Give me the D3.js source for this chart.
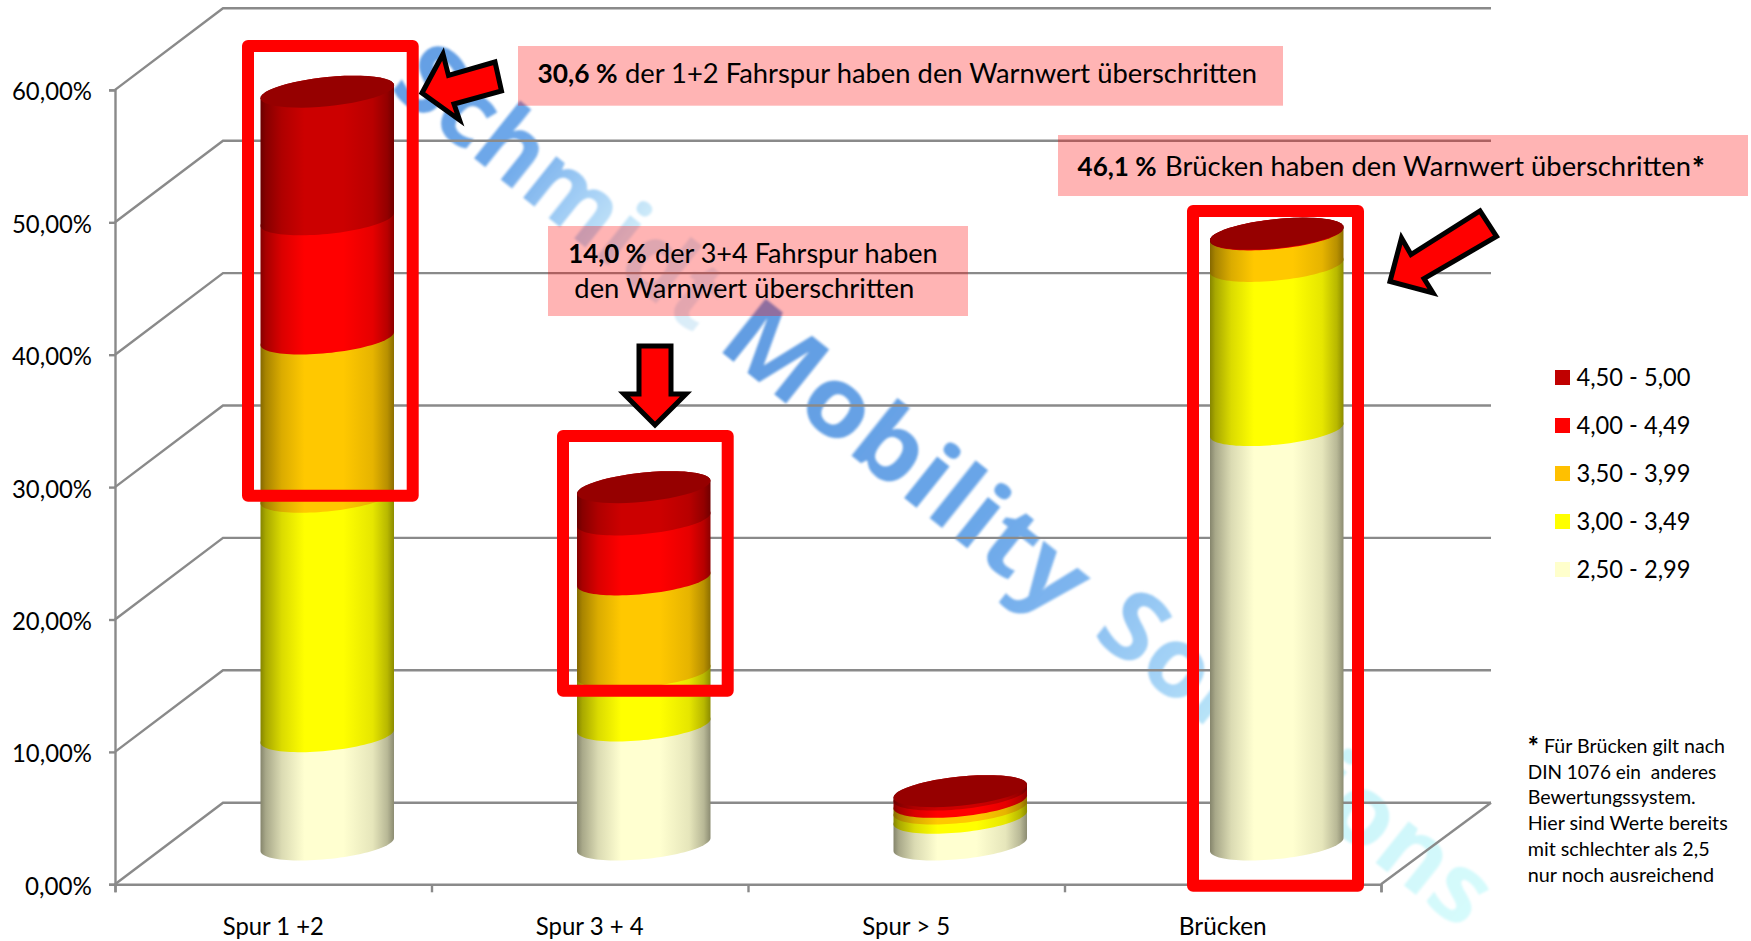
<!DOCTYPE html>
<html lang="de">
<head>
<meta charset="utf-8">
<title>Warnwert</title>
<script src="https://cdn.jsdelivr.net/npm/d3@7/dist/d3.min.js"></script>
<style>
html,body{margin:0;padding:0;background:#fff;overflow:hidden}
svg{display:block}
text{font-family:Lato,"Open Sans",sans-serif;fill:#000}
</style>
</head>
<body>
<svg id="chart" width="1751" height="941"></svg>
<script>
// ---- data ----
const categories = ["Spur 1 +2", "Spur 3 + 4", "Spur > 5", "Brücken"];
const classes = ["2,50 - 2,99", "3,00 - 3,49", "3,50 - 3,99", "4,00 - 4,49", "4,50 - 5,00"];
const band2_50 = [8.18, 8.99, 2.02, 31.3];
const band3_00 = [18.08, 4.0, 0.7, 12.4];
const band3_50 = [11.96, 7.03, 0.5, 2.38];
const band4_00 = [9.0, 4.53, 0.55, 0.04];
const band4_50 = [9.64, 2.44, 0.26, 0.02];
const seriesValues = [band2_50, band3_00, band3_50, band4_00, band4_50];
const axisTicks = [0, 10, 20, 30, 40, 50, 60];
const seriesColors = ["#ffffd0", "#ffff00", "#ffc800", "#ff0000", "#cc0000"];
const legendColors = ["#ffffcc", "#ffff00", "#ffc000", "#ff0000", "#c00000"];
const footnote = ["Für Brücken gilt nach", "DIN 1076 ein  anderes", "Bewertungssystem.", "Hier sind Werte bereits", "mit schlechter als 2,5", "nur noch ausreichend"];

// ---- layout ----
const svg = d3.select("#chart");
const y = d3.scaleLinear().domain([0, 60]).range([884.3, 89.9]);
const x = d3.scaleBand().domain(categories).range([115, 1381]);
const depth = {dx: 108, dy: 81.6};
const gridColor = "#8a8a8a";
const cyl = {w: 133.5, hemi: 16, shear: 6.5};
const locale = d3.formatLocale({decimal: ",", thousands: ".", grouping: [3], currency: ["", "€"]});
const pct = v => locale.format(".2f")(v) + "%";

const defs = svg.append("defs");
function shade(c, k) { const r = d3.rgb(c); return d3.rgb(r.r * k, r.g * k, r.b * k).formatHex(); }
seriesColors.forEach((c, i) => {
  const g = defs.append("linearGradient").attr("id", "side" + i);
  [[0, .52], [.04, .66], [.16, .86], [.33, 1], [.62, 1], [.84, .9], [.95, .72], [1, .55]].forEach(([o, k]) =>
    g.append("stop").attr("offset", o).attr("stop-color", shade(c, k)));
});
defs.append("filter").attr("id", "soft").append("feGaussianBlur").attr("stdDeviation", 0.9);

// ---- watermark: word, position along the slanted line, offset across it, length, colour ramp ----
const watermarkWords = [
  ["Schmidt", 14, 0, 392, [[0, "#649fe4"], [.36, "#6fa9ea"], [.55, "#a2cef5"], [.72, "#cdeaf9"], [1, "#dcedf8"]]],
  ["Mobility", 430, -3, 438, [[0, "#629de2"], [.7, "#6aa6e8"], [1, "#7fb6ef"]]],
  ["Solutions", 904, -12, 474, [[0, "#8fc2f2"], [.2, "#a8d6f7"], [.4, "#c6f0f8"], [1, "#d6fbfc"]]]
];
const wm = svg.append("g").attr("transform", "translate(377,81) rotate(38.6)").attr("filter", "url(#soft)");
watermarkWords.forEach(([word, u, v, len, ramp], i) => {
  const g = defs.append("linearGradient").attr("id", "wm" + i);
  ramp.forEach(([o, c]) => g.append("stop").attr("offset", o).attr("stop-color", c));
  wm.append("text").text(word).attr("x", u).attr("y", v)
    .attr("textLength", len).attr("lengthAdjust", "spacingAndGlyphs")
    .style("font-family", "'Open Sans'").style("font-weight", 700).style("font-size", "96px")
    .style("fill", `url(#wm${i})`);
});

// ---- walls ----
const grid = svg.append("g").attr("fill", "none").attr("stroke", gridColor).attr("stroke-width", 2.4);
const xFront = x.range()[0], xEnd = x.range()[1];
axisTicks.forEach(t => {
  const p = d3.path();
  p.moveTo(xFront, y(t));
  p.lineTo(xFront + depth.dx, y(t) - depth.dy);
  p.lineTo(xEnd + depth.dx + 2, y(t) - depth.dy);
  grid.append("path").attr("d", p.toString());
});
const floorEdge = d3.path();
floorEdge.moveTo(xEnd, y(0)); floorEdge.lineTo(xEnd + depth.dx + 2, y(0) - depth.dy);
grid.append("path").attr("d", floorEdge.toString());

// ---- axes ----
const yAxis = d3.axisLeft(y).tickValues(axisTicks).tickFormat(pct).tickSize(6).tickPadding(17);
const gy = svg.append("g").attr("transform", `translate(${xFront},0)`).call(yAxis);
gy.selectAll(".domain,.tick line").attr("stroke", gridColor).attr("stroke-width", 2.4);
gy.selectAll("text").style("font-size", "25px").attr("dy", "0.4em")
  .attr("textLength", d => d === 0 ? 67 : 80).attr("lengthAdjust", "spacingAndGlyphs");

const xBoundaries = d3.scaleLinear().domain([0, categories.length]).range(x.range());
const gxb = svg.append("g").attr("transform", `translate(0,${y(0)})`)
  .call(d3.axisBottom(xBoundaries).tickValues(d3.range(categories.length + 1)).tickSize(8).tickFormat(""));
gxb.selectAll(".domain,.tick line").attr("stroke", gridColor).attr("stroke-width", 2.4);
const xLabelWidths = [101, 108, 88, 88];
const gx = svg.append("g").attr("transform", `translate(0,${y(0)})`)
  .call(d3.axisBottom(x).tickSize(0).tickPadding(33));
gx.select(".domain").remove();
gx.selectAll("text").style("font-size", "25px").attr("dy", "0.71em")
  .attr("textLength", (d, i) => xLabelWidths[i]).attr("lengthAdjust", "spacingAndGlyphs");

// ---- cylinders ----
const N = 48;
function ellipsePts(cx, cy, from, to) {
  return d3.range(N + 1).map(i => {
    const t = from + (to - from) * i / N;
    const b = Math.sqrt(cyl.hemi * cyl.hemi - cyl.shear * cyl.shear);
    return [cx + cyl.w / 2 * Math.cos(t), cy - cyl.shear * Math.cos(t) + b * Math.sin(t)];
  });
}
const lineGen = d3.line();
const gc = svg.append("g");
const toCenter = v => y(v) - depth.dy / 2 + 1;
categories.forEach((c, ci) => {
  const cx = x(c) + x.bandwidth() / 2 + depth.dx / 2;
  let acc = 0;
  seriesValues.forEach((s, si) => {
    const v0 = acc, v1 = acc + s[ci];
    acc = v1;
    const front = ellipsePts(cx, toCenter(v0), Math.PI, 0);      // left → right along front
    const back = ellipsePts(cx, toCenter(v1), 0, -Math.PI);      // right → left along rear
    gc.append("path").attr("d", lineGen(front.concat(back)) + "Z").attr("fill", `url(#side${si})`);
  });
  const top = ellipsePts(cx, toCenter(acc), 0, 2 * Math.PI);
  gc.append("path").attr("d", lineGen(top) + "Z").attr("fill", "#960000");
});

// ---- annotation panels ----
const panels = [[518, 46, 765, 59.7], [548, 226, 420, 90], [1058, 135, 690, 61]];
svg.append("g").selectAll("rect").data(panels).join("rect")
  .attr("x", d => d[0]).attr("y", d => d[1]).attr("width", d => d[2]).attr("height", d => d[3])
  .attr("fill", "#ff0000").attr("fill-opacity", 0.295);

// ---- annotation text: [string, x, baseline, width, bold] ----
const labels = [
  ["30,6 %", 537.5, 83, 80, true],
  ["der 1+2 Fahrspur haben den Warnwert überschritten", 625, 83, 632, false],
  ["14,0 %", 568.3, 263, 78.5, true],
  ["der 3+4 Fahrspur haben", 655, 263, 282.7, false],
  ["den Warnwert überschritten", 574.3, 298, 340, false],
  ["46,1 %", 1077.6, 176, 79, true],
  ["Brücken haben den Warnwert überschritten", 1165, 176, 526, false]
];
svg.append("g").selectAll("text").data(labels).join("text")
  .text(d => d[0]).attr("x", d => d[1]).attr("y", d => d[2])
  .attr("textLength", d => d[3]).attr("lengthAdjust", "spacingAndGlyphs")
  .style("font-size", "27px").style("font-weight", d => d[4] ? 700 : 400);
svg.append("text").text("*").attr("x", 1692).attr("y", 178.5).style("font-size", "30px").style("font-weight", 900);

// ---- red frames ----
const frames = [[248, 46, 164.7, 449.7], [563, 436, 164.7, 254.7], [1193, 211, 165, 674.7]];
svg.append("g").selectAll("rect").data(frames).join("rect")
  .attr("x", d => d[0]).attr("y", d => d[1]).attr("width", d => d[2]).attr("height", d => d[3])
  .attr("fill", "none").attr("stroke", "#ff0000").attr("stroke-width", 12).attr("stroke-linejoin", "round");

// ---- block arrows ----
const arrows = [
  [[422, 93], [443, 54], [448.5, 75.5], [495, 62], [501.5, 91], [454, 104], [459.5, 120]],
  [[655, 425], [624, 394], [639, 394], [639, 346], [671, 346], [671, 394], [686, 394]],
  [[1390, 281.5], [1401.5, 238], [1411, 254.5], [1480, 211], [1496.5, 236.5], [1424, 278.5], [1433, 293]]
];
svg.append("g").selectAll("path").data(arrows).join("path")
  .attr("d", d => d3.line()(d) + "Z").attr("fill", "#ff0000").attr("stroke", "#000")
  .attr("stroke-width", 5).attr("stroke-linejoin", "miter").attr("stroke-miterlimit", 6);

// ---- legend ----
const legendRows = d3.scalePoint().domain(d3.range(5)).range([377.5, 569.5]);
const legend = svg.append("g").selectAll("g").data(d3.range(5)).join("g")
  .attr("transform", i => `translate(1555,${legendRows(i)})`);
legend.append("rect").attr("y", -7.5).attr("width", 15).attr("height", 15).attr("fill", i => legendColors[4 - i]);
legend.append("text").text(i => classes[4 - i]).attr("x", 21.5).attr("y", 8)
  .attr("textLength", 114).attr("lengthAdjust", "spacingAndGlyphs").style("font-size", "25px");

// ---- footnote ----
const noteRows = d3.scalePoint().domain(d3.range(footnote.length)).range([753, 881.7]);
const noteWidths = [181, 188.5, 168, 200, 182, 186.3];
svg.append("text").text("*").attr("x", 1527.7).attr("y", 755.5).style("font-size", "26px").style("font-weight", 900);
svg.append("g").selectAll("text").data(footnote).join("text")
  .text(d => d).attr("x", (d, i) => i === 0 ? 1544 : 1527.7).attr("y", (d, i) => noteRows(i))
  .attr("textLength", (d, i) => noteWidths[i])
  .attr("lengthAdjust", "spacingAndGlyphs").style("font-size", "20px").style("white-space", "pre");
</script>
</body>
</html>
